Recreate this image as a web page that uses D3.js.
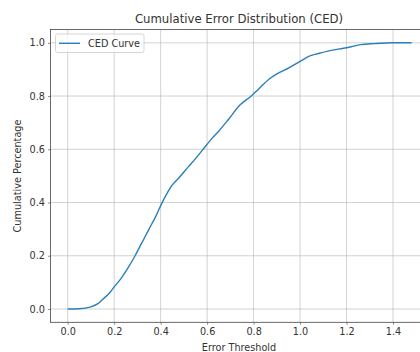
<!DOCTYPE html>
<html>
<head>
<meta charset="utf-8">
<script src="https://cdn.jsdelivr.net/npm/d3@7"></script>
<style>
  body { margin: 0; background: #fff; }
  svg { display: block; font-family: "DejaVu Sans", sans-serif; }
</style>
</head>
<body>
<div id="chart"></div>
<script>
// Error thresholds and the cumulative share of samples below each
const thresholds = [0.00, 0.05, 0.10, 0.13, 0.15, 0.18, 0.20, 0.23, 0.26, 0.29, 0.32, 0.35, 0.38, 0.405, 0.43, 0.45,
    0.48, 0.52, 0.55, 0.58, 0.62, 0.65, 0.69, 0.74, 0.79, 0.82, 0.87, 0.91, 0.95, 1.00, 1.04, 1.08, 1.12,
    1.17, 1.22, 1.26, 1.32, 1.40, 1.48];
const cumulative = [0.000, 0.001, 0.008, 0.020, 0.036, 0.060, 0.083, 0.115, 0.155, 0.200, 0.250, 0.300, 0.350, 0.397, 0.438, 0.466,
    0.494, 0.535, 0.565, 0.597, 0.640, 0.668, 0.710, 0.765, 0.800, 0.825, 0.866, 0.888, 0.905, 0.930, 0.950, 0.960, 0.969,
    0.977, 0.985, 0.993, 0.997, 1.000, 1.000];
const xTicks = [0.0, 0.2, 0.4, 0.6, 0.8, 1.0, 1.2, 1.4];
const yTicks = [0.0, 0.2, 0.4, 0.6, 0.8, 1.0];

const width = 420;
const height = 352;
// axes box (right side runs past the window edge, like the original)
const margin = { left: 50.5, top: 29.5, right: 428.8, bottom: 322.3 };

const svg = d3.select("#chart").append("svg")
    .attr("width", width)
    .attr("height", height);

const data = thresholds.map((t, i) => ({ t: t, p: cumulative[i] }));

// matplotlib style 5% margins
const xmin = 0, xmax = d3.max(thresholds);
const xpad = (xmax - xmin) * 0.05;
const x = d3.scaleLinear()
    .domain([xmin - xpad, xmax + xpad])
    .range([margin.left, margin.right]);

const y = d3.scaleLinear()
    .domain([-0.05, 1.05])
    .range([margin.bottom, margin.top]);

// grid
svg.append("g")
    .selectAll("line")
    .data(xTicks)
    .enter().append("line")
    .attr("x1", d => x(d)).attr("x2", d => x(d))
    .attr("y1", margin.top).attr("y2", margin.bottom)
    .attr("stroke", "#b0b0b0")
    .attr("stroke-width", 0.8)
    .attr("opacity", 0.7);

svg.append("g")
    .selectAll("line")
    .data(yTicks)
    .enter().append("line")
    .attr("x1", margin.left).attr("x2", margin.right)
    .attr("y1", d => y(d)).attr("y2", d => y(d))
    .attr("stroke", "#b0b0b0")
    .attr("stroke-width", 0.8)
    .attr("opacity", 0.7);

// axes
const xAxis = svg.append("g")
    .attr("transform", `translate(0,${margin.bottom})`)
    .call(d3.axisBottom(x).tickValues(xTicks).tickFormat(d3.format(".1f")).tickSize(2.5).tickPadding(3));
const yAxis = svg.append("g")
    .attr("transform", `translate(${margin.left},0)`)
    .call(d3.axisLeft(y).tickValues(yTicks).tickFormat(d3.format(".1f")).tickSize(2.5).tickPadding(3));

[xAxis, yAxis].forEach(a => {
    a.select(".domain").remove();
    a.selectAll("text").attr("font-size", 9.7).attr("fill", "#333").attr("font-family", "DejaVu Sans");
    a.selectAll(".tick line").attr("stroke", "#444").attr("stroke-width", 0.6);
});

// spines
svg.append("rect")
    .attr("x", margin.left).attr("y", margin.top)
    .attr("width", margin.right - margin.left).attr("height", margin.bottom - margin.top)
    .attr("fill", "none")
    .attr("stroke", "#444")
    .attr("stroke-width", 0.8);

// curve
const line = d3.line()
    .x(d => x(d.t))
    .y(d => y(d.p))
    .curve(d3.curveMonotoneX);

svg.append("path")
    .datum(data)
    .attr("d", line)
    .attr("fill", "none")
    .attr("stroke", "#2a7fba")
    .attr("stroke-width", 1.4);

// title and labels
svg.append("text")
    .attr("x", 239)
    .attr("y", 23)
    .attr("text-anchor", "middle")
    .attr("font-size", 11.7)
    .attr("fill", "#333")
    .text("Cumulative Error Distribution (CED)");

svg.append("text")
    .attr("x", 239)
    .attr("y", 351)
    .attr("text-anchor", "middle")
    .attr("font-size", 9.7)
    .attr("fill", "#333")
    .text("Error Threshold");

svg.append("text")
    .attr("transform", "translate(21,176) rotate(-90)")
    .attr("text-anchor", "middle")
    .attr("font-size", 9.7)
    .attr("fill", "#333")
    .text("Cumulative Percentage");

// legend
const legend = svg.append("g");
legend.append("rect")
    .attr("x", 55.5).attr("y", 34)
    .attr("width", 88.5).attr("height", 18.5)
    .attr("rx", 2)
    .attr("fill", "#fff")
    .attr("fill-opacity", 0.8)
    .attr("stroke", "#ccc")
    .attr("stroke-width", 0.8);
legend.append("line")
    .attr("x1", 59).attr("x2", 80)
    .attr("y1", 43.3).attr("y2", 43.3)
    .attr("stroke", "#2a7fba")
    .attr("stroke-width", 1.4);
legend.append("text")
    .attr("x", 88)
    .attr("y", 46.7)
    .attr("font-size", 9.7)
    .attr("fill", "#333")
    .text("CED Curve");
</script>
</body>
</html>
